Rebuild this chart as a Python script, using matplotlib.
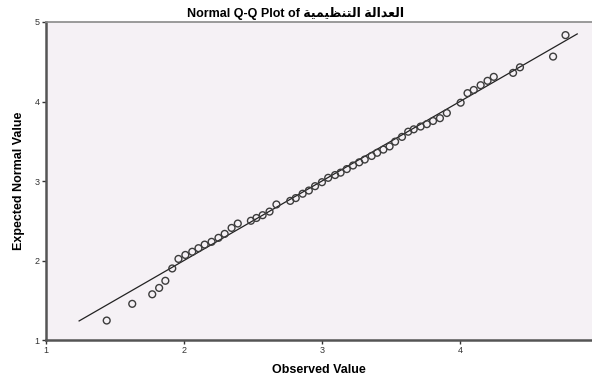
import matplotlib
matplotlib.use('Agg')
import matplotlib.pyplot as plt

plt.rcParams['font.family'] = ['Liberation Sans', 'DejaVu Sans']

observed = [1.44, 1.625, 1.77, 1.82, 1.865, 1.915, 1.96, 2.01, 2.06, 2.105,
            2.15, 2.2, 2.25, 2.295, 2.345, 2.39, 2.485, 2.525, 2.57, 2.62,
            2.67, 2.77, 2.81, 2.86, 2.905, 2.95, 3.0, 3.045, 3.095, 3.135,
            3.18, 3.225, 3.27, 3.31, 3.36, 3.4, 3.445, 3.49, 3.53, 3.58,
            3.625, 3.665, 3.715, 3.76, 3.805, 3.855, 3.905, 4.005, 4.055, 4.1,
            4.15, 4.2, 4.245, 4.385, 4.435, 4.675, 4.765]
expected = [1.245, 1.455, 1.575, 1.655, 1.745, 1.9, 2.02, 2.07, 2.11, 2.155,
            2.2, 2.235, 2.285, 2.335, 2.41, 2.465, 2.5, 2.535, 2.57, 2.615,
            2.705, 2.75, 2.785, 2.84, 2.88, 2.935, 2.985, 3.04, 3.075, 3.105,
            3.15, 3.195, 3.235, 3.27, 3.315, 3.355, 3.395, 3.435, 3.495, 3.555,
            3.62, 3.65, 3.685, 3.715, 3.755, 3.79, 3.855, 3.985, 4.105, 4.145,
            4.205, 4.26, 4.31, 4.36, 4.43, 4.565, 4.835]
ref_line = [1.24, 4.85]

x_ticks = [1, 2, 3, 4]
y_ticks = [1, 2, 3, 4, 5]

# "العدالة التنظيمية" as shaped presentation forms, logical order,
# then reversed so it reads right-to-left when drawn left-to-right
arabic = ('\ufe8d\ufedf\ufecc\ufeaa\ufe8d\ufedf\ufe94'
          ' \ufe8d\ufedf\ufe98\ufee8\ufec8\ufef4\ufee4\ufef4\ufe94')[::-1]
title = 'Normal Q-Q Plot of ' + arabic

fig = plt.figure(figsize=(5.92, 3.78), dpi=100)
ax = fig.add_axes([0.0777, 0.1005, 0.9223, 0.8413])
ax.set_facecolor('#f5f1f5')

ax.plot(ref_line, ref_line, color='#222222', lw=0.9, zorder=2)
ax.scatter(observed, expected, s=24, facecolors='none',
           edgecolors='#3c3c3c', linewidths=1.0, zorder=3)

ax.set_xlim(1, 4.957)
ax.set_ylim(1, 5)
ax.set_xticks(x_ticks)
ax.set_yticks(y_ticks)
ax.tick_params(axis='both', direction='out', length=3, width=1,
               labelsize=6.5, colors='#333333', pad=1.5)

ax.spines['right'].set_visible(False)
ax.spines['top'].set_color('#8a8a8a')
ax.spines['top'].set_linewidth(1.2)
for s in ['left', 'bottom']:
    ax.spines[s].set_color('#555555')
    ax.spines[s].set_linewidth(1.8)

ax.set_xlabel('Observed Value', fontsize=9, fontweight='bold', labelpad=6)
ax.set_ylabel('Expected Normal Value', fontsize=9, fontweight='bold', labelpad=7)
fig.text(0.5, 0.965, title, ha='center', va='center', fontsize=9,
         fontweight='bold', family=['Liberation Sans', 'DejaVu Sans'])

fig.savefig('out.png', dpi=100)
